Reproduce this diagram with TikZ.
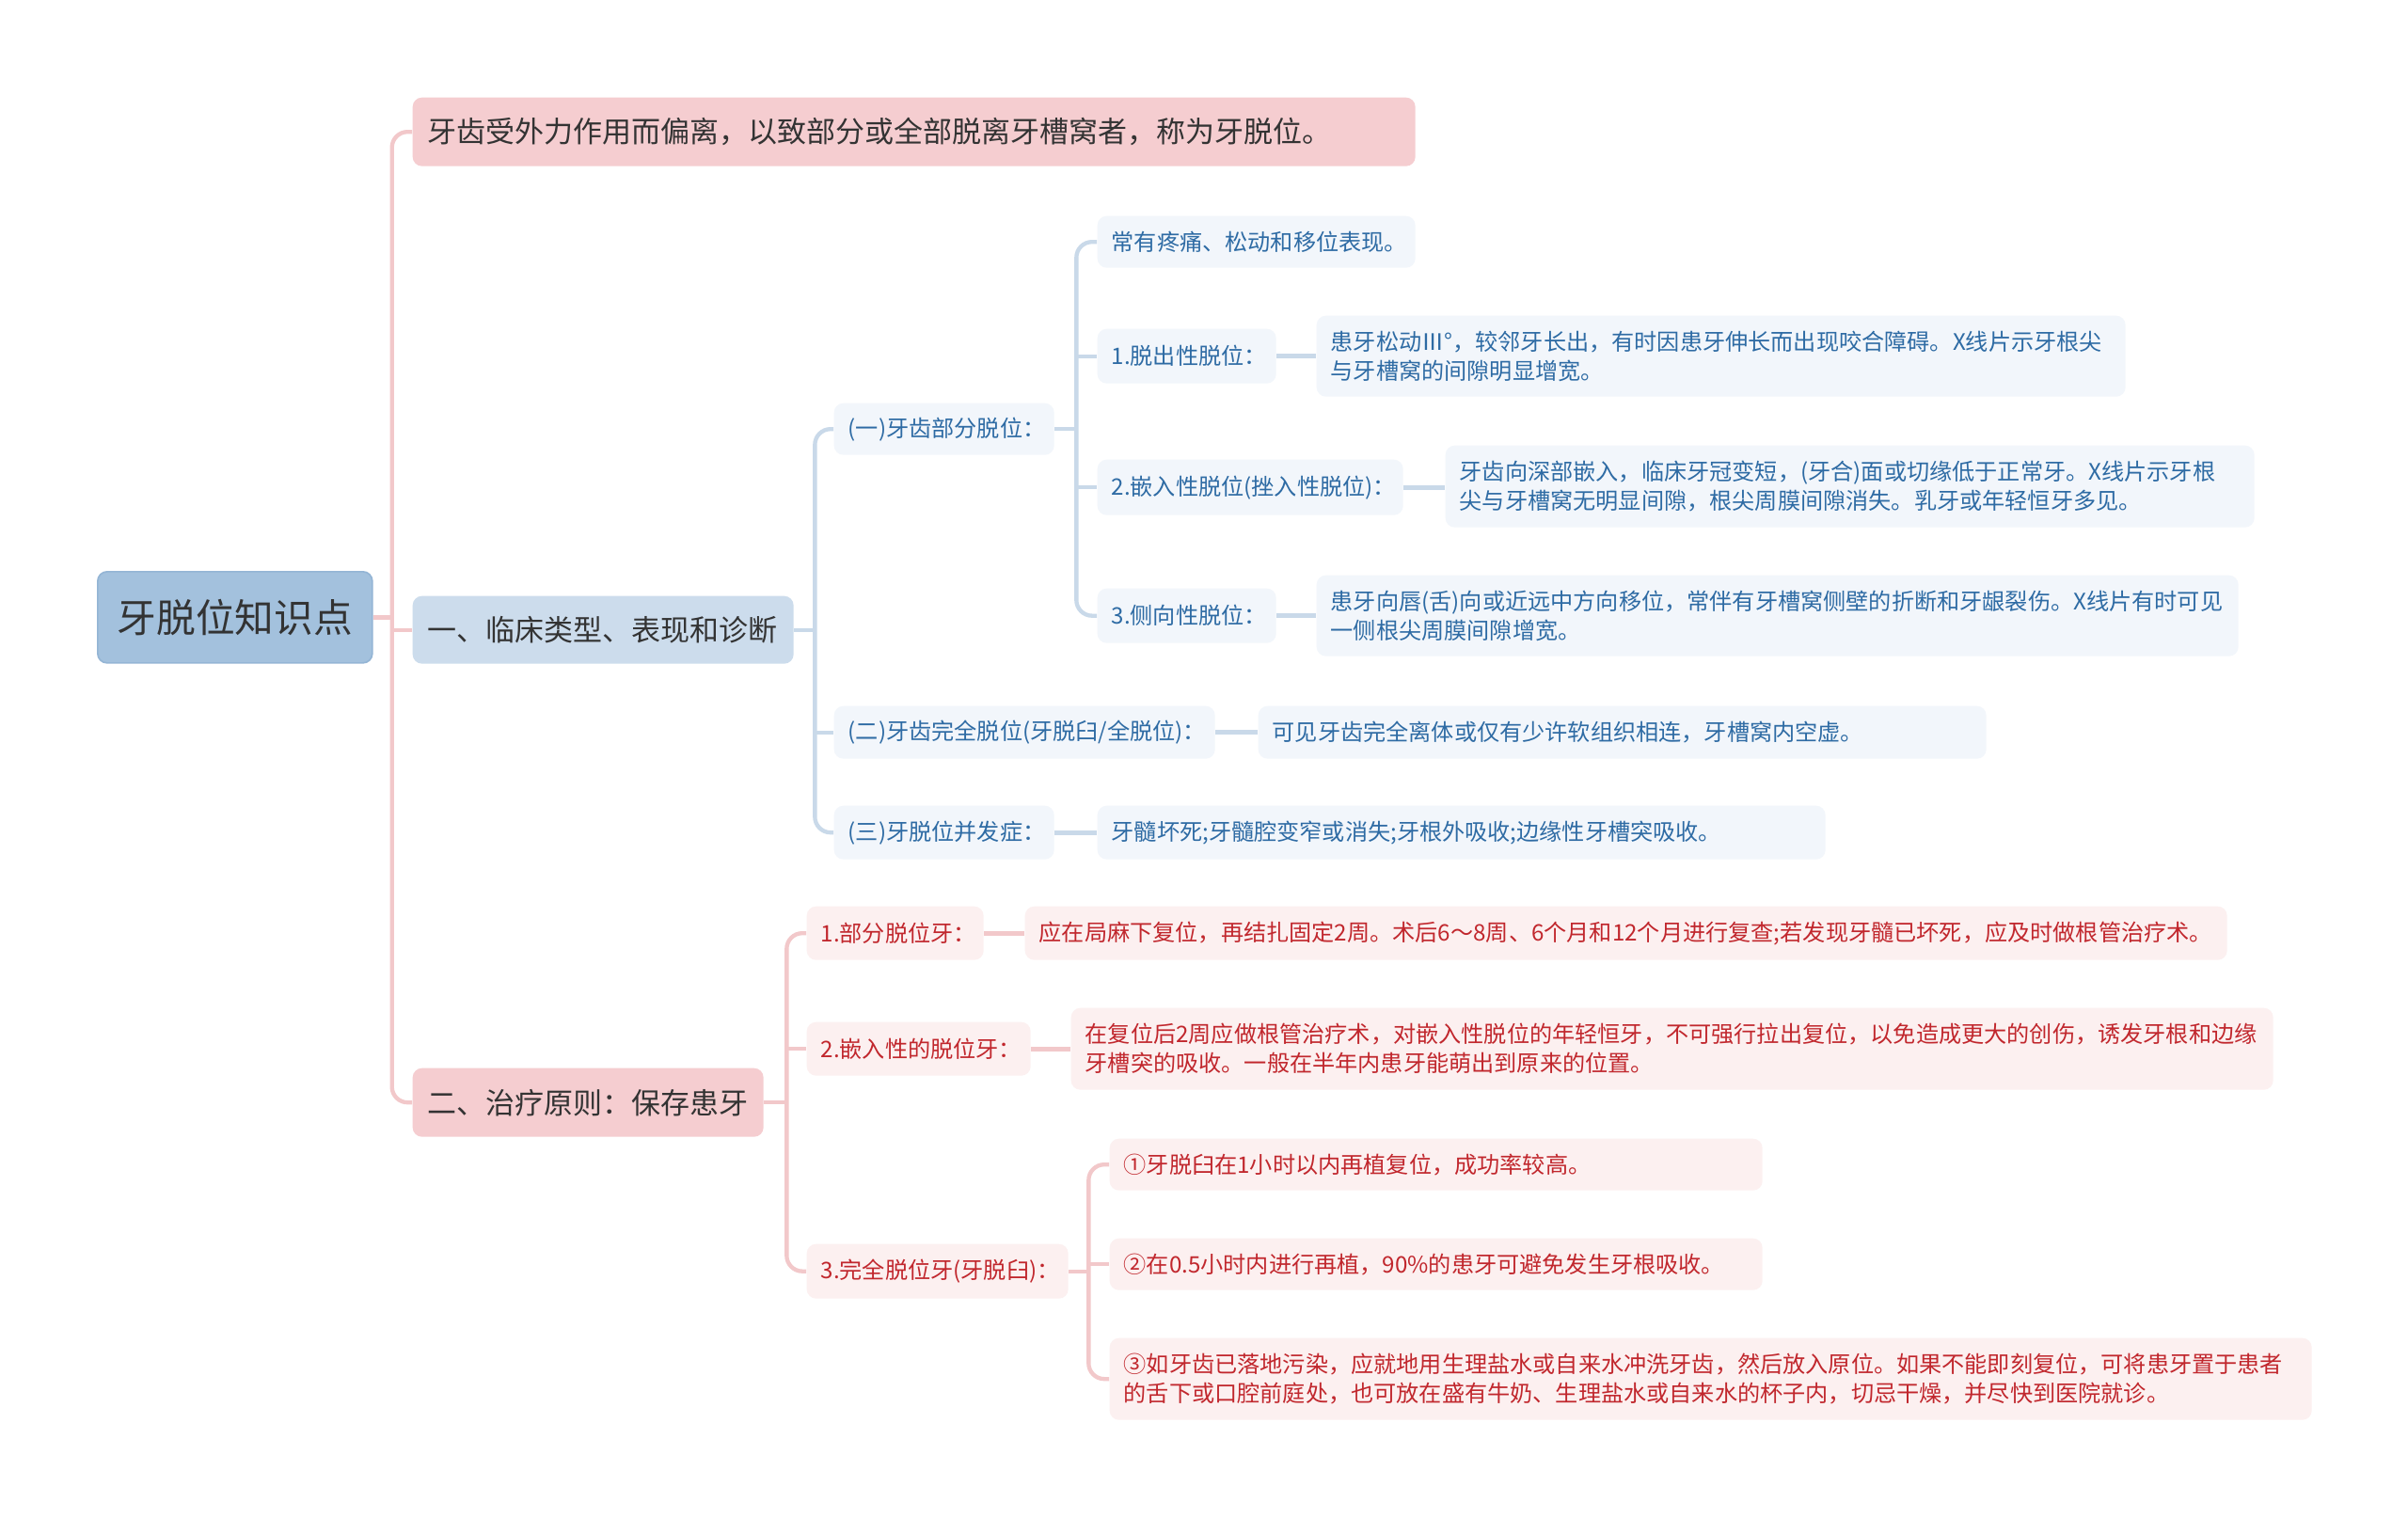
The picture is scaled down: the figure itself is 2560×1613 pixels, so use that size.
\documentclass[tikz,border=0pt]{standalone}
\usepackage{fontspec}
\setmainfont{Noto Sans CJK SC}
\definecolor{rootfill}{HTML}{A3C1DD}
\definecolor{rootdraw}{HTML}{94B5D5}
\definecolor{bluemain}{HTML}{CCDCEC}
\definecolor{bluelight}{HTML}{F2F6FB}
\definecolor{bluetext}{HTML}{2E6BA4}
\definecolor{blueline}{HTML}{C9D9E9}
\definecolor{pinkmain}{HTML}{F5CDD0}
\definecolor{redlight}{HTML}{FCF0F0}
\definecolor{redtext}{HTML}{C1272D}
\definecolor{pinkline}{HTML}{F2C8CA}
\definecolor{textdark}{HTML}{333333}
\tikzset{
  base/.style={rounded corners=3pt, inner ysep=0pt, align=left, anchor=north west},
  rootbox/.style={base, fill=rootfill, draw=rootdraw, line width=0.5pt, text=textdark,
    font=\fontsize{12.5pt}{15pt}\selectfont, align=center, inner xsep=0pt,
    minimum width=87.6pt, minimum height=29.1pt},
  mainpink/.style={base, fill=pinkmain, text=textdark, inner xsep=4.8pt,
    font=\fontsize{9.3pt}{11pt}\selectfont},
  mainblue/.style={base, fill=bluemain, text=textdark, inner xsep=4.8pt,
    font=\fontsize{9.3pt}{11pt}\selectfont},
  bluebox/.style={base, fill=bluelight, text=bluetext, inner xsep=4.5pt,
    font=\fontsize{7.25pt}{9.3pt}\selectfont},
  redbox/.style={base, fill=redlight, text=redtext, inner xsep=4.5pt,
    font=\fontsize{7.25pt}{9.3pt}\selectfont},
  pinkconn/.style={draw=pinkline, line width=1.3pt},
  blueconn/.style={draw=blueline, line width=1.3pt},
  trunkround/.style={rounded corners=5pt},
  blueleaf/.style={draw=blueline, line width=1.5pt},
  redleaf/.style={draw=pinkline, line width=1.5pt},
}
% name, style, left, top, height(pt), textwidth(pt), text
\newcommand\bx[7]{\node[#2, minimum height=#5pt, text width=#6pt] (#1) at (#3,#4) {#7};}
\begin{document}
\begin{tikzpicture}[x=0.3pt,y=-0.3pt]
\fill[white] (0,0) rectangle (2560,1613);
\useasboundingbox (0,0) rectangle (2560,1613);

% root and main branches
\node[rootbox] (root) at (103,607) {牙脱位知识点};
\bx{def}{mainpink}{438}{103}{21.9}{310.2}{牙齿受外力作用而偏离，以致部分或全部脱离牙槽窝者，称为牙脱位。}
\bx{b1}{mainblue}{438}{633}{21.6}{111.9}{一、临床类型、表现和诊断}
\bx{b2}{mainpink}{438}{1135}{21.9}{102.3}{二、治疗原则：保存患牙}

% blue subtree
\bx{s1}{bluebox}{886}{428}{16.5}{61.2}{(一)牙齿部分脱位：}
\bx{s2}{bluebox}{886}{750}{16.8}{112.5}{(二)牙齿完全脱位(牙脱臼/全脱位)：}
\bx{s3}{bluebox}{886}{856}{17.1}{61.2}{(三)牙脱位并发症：}
\bx{t0}{bluebox}{1166}{229}{16.5}{92.4}{常有疼痛、松动和移位表现。}
\bx{t1}{bluebox}{1166}{349}{17.4}{48}{1.脱出性脱位：}
\bx{t2}{bluebox}{1166}{488}{17.7}{88.5}{2.嵌入性脱位(挫入性脱位)：}
\bx{t3}{bluebox}{1166}{625}{17.4}{48}{3.侧向性脱位：}
\bx{l1}{bluebox}{1399}{335}{25.8}{249}{患牙松动Ⅲ°，较邻牙长出，有时因患牙伸长而出现咬合障碍。X线片示牙根尖\\与牙槽窝的间隙明显增宽。}
\bx{l2}{bluebox}{1536}{473}{26.1}{249}{牙齿向深部嵌入，临床牙冠变短，(牙合)面或切缘低于正常牙。X线片示牙根\\尖与牙槽窝无明显间隙，根尖周膜间隙消失。乳牙或年轻恒牙多见。}
\bx{l3}{bluebox}{1399}{611}{25.8}{285}{患牙向唇(舌)向或近远中方向移位，常伴有牙槽窝侧壁的折断和牙龈裂伤。X线片有时可见\\一侧根尖周膜间隙增宽。}
\bx{l4}{bluebox}{1337}{750}{16.8}{223.2}{可见牙齿完全离体或仅有少许软组织相连，牙槽窝内空虚。}
\bx{l5}{bluebox}{1166}{856}{17.1}{223.2}{牙髓坏死;牙髓腔变窄或消失;牙根外吸收;边缘性牙槽突吸收。}

% red subtree
\bx{r1}{redbox}{857}{963}{17.1}{47.4}{1.部分脱位牙：}
\bx{rl1}{redbox}{1089}{963}{17.1}{374.4}{应在局麻下复位，再结扎固定2周。术后6～8周、6个月和12个月进行复查;若发现牙髓已坏死，应及时做根管治疗术。}
\bx{r2}{redbox}{857}{1086}{17.1}{62.4}{2.嵌入性的脱位牙：}
\bx{rl2}{redbox}{1138}{1071}{26.1}{374.4}{在复位后2周应做根管治疗术，对嵌入性脱位的年轻恒牙，不可强行拉出复位，以免造成更大的创伤，诱发牙根和边缘\\牙槽突的吸收。一般在半年内患牙能萌出到原来的位置。}
\bx{r3}{redbox}{857}{1322}{17.4}{74.4}{3.完全脱位牙(牙脱臼)：}
\bx{c1}{redbox}{1179}{1210}{16.5}{199.2}{①牙脱臼在1小时以内再植复位，成功率较高。}
\bx{c2}{redbox}{1179}{1316}{16.5}{199.2}{②在0.5小时内进行再植，90\%的患牙可避免发生牙根吸收。}
\bx{c3}{redbox}{1179}{1422}{26.1}{374.4}{③如牙齿已落地污染，应就地用生理盐水或自来水冲洗牙齿，然后放入原位。如果不能即刻复位，可将患牙置于患者\\的舌下或口腔前庭处，也可放在盛有牛奶、生理盐水或自来水的杯子内，切忌干燥，并尽快到医院就诊。}

% junction points of the trunks
\coordinate (jr) at ([xshift=6pt]root.east);
\coordinate (jb1) at ([xshift=6.6pt]b1.east);
\coordinate (js1) at ([xshift=6.9pt]s1.east);
\coordinate (jb2) at ([xshift=7.2pt]b2.east);
\coordinate (jr3) at ([xshift=6.3pt]r3.east);

% root trunk
\draw[pinkconn, trunkround] (def.west) -- (def.west -| jr) -- (b2.west -| jr) -- (b2.west);
\draw[pinkconn] (root.east) -- (jr);
\draw[pinkconn] (b1.west -| jr) -- (b1.west);

% blue branch
\draw[blueconn, trunkround] (s1.west) -- (s1.west -| jb1) -- (s3.west -| jb1) -- (s3.west);
\draw[blueconn] (b1.east) -- (jb1);
\draw[blueconn] (s2.west -| jb1) -- (s2.west);
\draw[blueconn, trunkround] (t0.west) -- (t0.west -| js1) -- (t3.west -| js1) -- (t3.west);
\draw[blueconn] (s1.east) -- (js1);
\draw[blueconn] (t1.west -| js1) -- (t1.west);
\draw[blueconn] (t2.west -| js1) -- (t2.west);
\draw[blueleaf] (t1.east) -- (t1.east -| l1.west);
\draw[blueleaf] (t2.east) -- (t2.east -| l2.west);
\draw[blueleaf] (t3.east) -- (t3.east -| l3.west);
\draw[blueleaf] (s2.east) -- (s2.east -| l4.west);
\draw[blueleaf] (s3.east) -- (s3.east -| l5.west);

% red branch
\draw[pinkconn, trunkround] (r1.west) -- (r1.west -| jb2) -- (r3.west -| jb2) -- (r3.west);
\draw[pinkconn] (b2.east) -- (jb2);
\draw[pinkconn] (r2.west -| jb2) -- (r2.west);
\draw[pinkconn, trunkround] (c1.west) -- (c1.west -| jr3) -- (c3.west -| jr3) -- (c3.west);
\draw[pinkconn] (r3.east) -- (jr3);
\draw[pinkconn] (c2.west -| jr3) -- (c2.west);
\draw[redleaf] (r1.east) -- (r1.east -| rl1.west);
\draw[redleaf] (r2.east) -- (r2.east -| rl2.west);
\end{tikzpicture}
\end{document}
